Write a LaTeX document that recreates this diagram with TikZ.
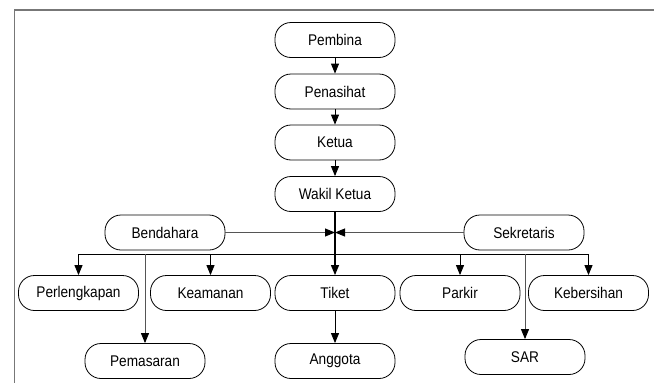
\documentclass[tikz,border=0pt]{standalone}
\usepackage{fontspec}
\setmainfont{Liberation Sans}[FakeStretch=0.88]
\usetikzlibrary{arrows.meta}

\definecolor{framegray}{HTML}{777777}
\definecolor{linegray}{HTML}{555555}

\tikzset{
  unit/.style={draw=black, line width=0.8pt, rounded corners=16pt,
    minimum width=120pt, minimum height=35pt, inner sep=0pt,
    font=\fontsize{15.5}{18}\selectfont},
  arr/.style={-{Triangle[length=10pt,width=8pt,color=black]}, line width=0.9pt},
}

\begin{document}
\begin{tikzpicture}[x=1pt, y=-1pt]
            \useasboundingbox (0,0) rectangle (654,383);

            % Frame
            \draw[framegray, line width=1.3pt] (14.7,383) -- (14.7,10) -- (654,10);

            % Top column
            \node[unit] (pembina)   at (335,40)  {Pembina};
            \node[unit] (penasihat) at (335,91.5) {Penasihat};
            \node[unit] (ketua)     at (335,142.5) {Ketua};
            \node[unit] (wakil)     at (335,194) {Wakil Ketua};

            % Staff
            \node[unit] (bendahara)  at (165,232.5) {Bendahara};
            \node[unit] (sekretaris) at (524,232.5) {Sekretaris};

            % Divisions
            \node[unit] (perlengkapan) at (78.5,293)  {Perlengkapan};
            \node[unit] (keamanan)     at (210.5,293) {Keamanan};
            \node[unit] (tiket)        at (335,293)   {Tiket};
            \node[unit] (parkir)       at (460,293)   {Parkir};
            \node[unit] (kebersihan)   at (588.5,293) {Kebersihan};

            % Bottom row
            \node[unit] (pemasaran) at (145,361) {Pemasaran};
            \node[unit] (anggota)   at (335,361) {Anggota};
            \node[unit] (sar)       at (525,357) {SAR};

            \coordinate (meet) at (335,232.5);
            \coordinate (bus)  at (335,254);

            % Chain of command
            \draw[arr] (pembina) -- (penasihat);
            \draw[arr] (penasihat) -- (ketua);
            \draw[arr] (ketua) -- (wakil);
            \draw[arr, line width=1.2pt] (wakil) -- (tiket);
            \draw[arr] (tiket) -- (anggota);

            % Staff lines
            \draw[arr, linegray] (bendahara) -- (meet);
            \draw[arr, linegray] (sekretaris) -- (meet);

            % Bus to divisions
            \draw[line width=1pt] (bus -| perlengkapan) -- (bus -| kebersihan);
            \draw[arr] (bus -| perlengkapan) -- (perlengkapan);
            \draw[arr] (bus -| keamanan) -- (keamanan);
            \draw[arr] (bus -| parkir) -- (parkir);
            \draw[arr] (bus -| kebersihan) -- (kebersihan);
            \draw[arr, linegray] (bus -| pemasaran) -- (pemasaran);
            \draw[arr, linegray] (bus -| sar) -- (sar);
        \end{tikzpicture}
\end{document}
